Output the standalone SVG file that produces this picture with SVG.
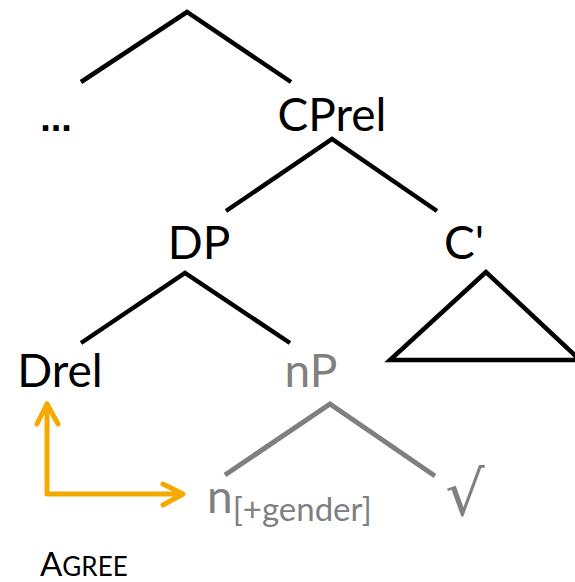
<svg xmlns="http://www.w3.org/2000/svg" width="575" height="582" viewBox="0 0 575 582">
<style>
.t{font-family:Lato,"Open Sans",sans-serif;font-size:46px;text-anchor:middle}
.k{fill:#000}
.g{fill:#808080}
.lk{stroke:#000;stroke-width:4.5;fill:none}
.lg{stroke:#7f7f7f;stroke-width:5;fill:none}
.ar{stroke:#F5A800;stroke-width:5;fill:none;stroke-linecap:round;stroke-linejoin:round}
</style>
<rect width="575" height="582" fill="#fff"/>
<g id="connectors">
<polyline class="lk" points="81,82 187,12 291,82"/>
<polyline class="lk" points="226,211 332,139 437,211"/>
<polyline class="lk" points="81,343 185,273 290,343"/>
<polygon class="lk" points="486,272 390,360 580,360"/>
<polyline class="lg" points="225,475 330,404 435,476"/>
</g>
<g id="agree-arrow">
<polyline class="ar" points="47,404 47,494 182,494"/>
<polyline class="ar" points="37,424 47,404 58,424"/>
<polyline class="ar" points="163,484 183,494 163,505"/>
</g>
<g id="dots"><text class="k" x="56" y="131" style="font-family:'Liberation Sans',sans-serif;font-size:38px;font-weight:bold;text-anchor:middle">...</text></g>
<g id="CPrel"><text class="t k" x="332" y="131">CPrel</text></g>
<g id="DP"><text class="t k" x="199" y="259">DP</text></g>
<g id="Cbar"><text class="t k" x="464" y="259">C'</text></g>
<g id="Drel"><text class="t k" x="60" y="387">Drel</text></g>
<g id="nP"><text class="t g" x="311" y="387">nP</text></g>
<g id="n"><text class="g" x="207" y="513" style="font-family:Lato,'Open Sans',sans-serif;font-size:46px">n<tspan dy="8" style="font-size:33px">[+gender]</tspan></text></g>
<g id="root"><text class="g" x="465" y="515" style="font-family:'DejaVu Sans',sans-serif;font-size:62px;text-anchor:middle">√</text></g>
<g id="agree-label"><text class="k" x="40" y="576" style="font-family:Lato,'Open Sans',sans-serif;font-size:33px">A<tspan style="font-size:26px">GREE</tspan></text></g>
</svg>
